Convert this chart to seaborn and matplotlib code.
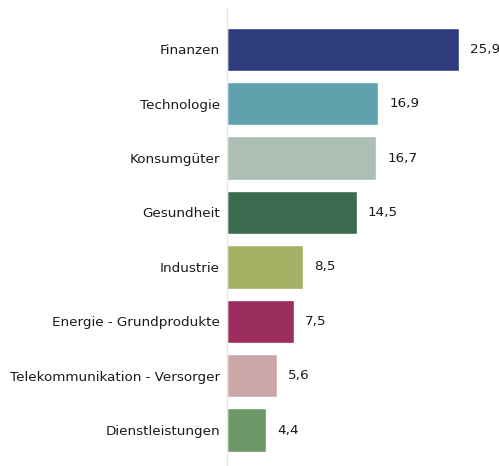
import matplotlib
matplotlib.use("Agg")
import pandas as pd
import matplotlib.pyplot as plt
import seaborn as sns

# sector weights in percent
sectors = ["Finanzen", "Technologie", "Konsumgüter", "Gesundheit", "Industrie",
           "Energie - Grundprodukte", "Telekommunikation - Versorger", "Dienstleistungen"]
weights = [25.9, 16.9, 16.7, 14.5, 8.5, 7.5, 5.6, 4.4]
colors = ["#2E3C7E", "#5FA2AE", "#ABBFB5", "#3C6A4E", "#A3B064",
          "#9B2C5E", "#CCA6A6", "#6C9867"]

df = pd.DataFrame({"sector": sectors, "weight": weights})

sns.set_style("white")
plt.rcParams["font.family"] = ["DejaVu Sans"]

fig = plt.figure(figsize=(4.99, 4.66), dpi=100)
ax = fig.add_axes([0.455, 0.0, 0.545, 0.983])

sns.barplot(data=df, x="weight", y="sector", hue="sector", palette=colors,
            legend=False, width=0.8, saturation=1, ax=ax)

# value labels with german decimal comma
for i, v in enumerate(weights):
    ax.annotate(f"{v:.1f}".replace(".", ","), (v, i), xytext=(8, 0),
                textcoords="offset points", va="center", ha="left",
                fontsize=9.7, color="#1a1a1a")

ax.set_xlim(0, 30.4)
ax.set_ylim(7.66, -0.76)
ax.set_xlabel("")
ax.set_ylabel("")
ax.set_xticks([])
ax.tick_params(axis="y", length=0, pad=5, labelsize=9.7, labelcolor="#1a1a1a")
for s in ["top", "right", "bottom"]:
    ax.spines[s].set_visible(False)
ax.spines["left"].set_color("#e6e6e6")
ax.spines["left"].set_linewidth(1)

fig.savefig("out.png", dpi=100)
